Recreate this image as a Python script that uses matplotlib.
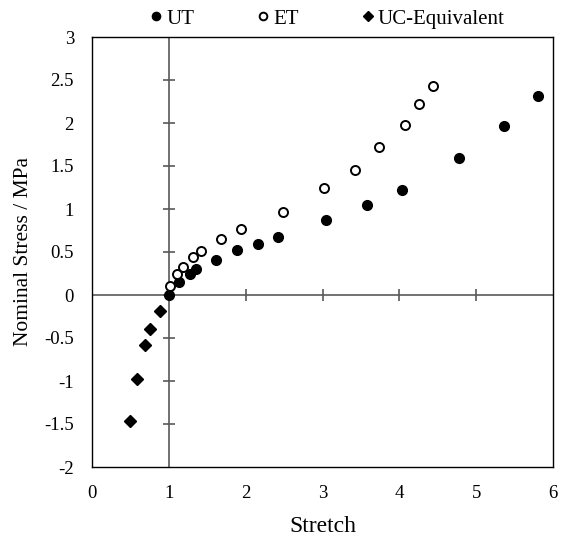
import matplotlib
matplotlib.use('Agg')
import matplotlib.pyplot as plt
import numpy as np

plt.rcParams['font.family'] = ['Liberation Serif', 'DejaVu Serif']

# uniaxial tension
ut_x = [1.00, 1.13, 1.27, 1.35, 1.62, 1.89, 2.16, 2.42, 3.05, 3.58, 4.03, 4.78, 5.36, 5.81]
ut_y = [0.00, 0.15, 0.24, 0.30, 0.41, 0.52, 0.59, 0.67, 0.87, 1.05, 1.22, 1.59, 1.97, 2.31]

# equibiaxial tension
et_x = [1.02, 1.10, 1.19, 1.31, 1.42, 1.68, 1.94, 2.49, 3.02, 3.42, 3.74, 4.07, 4.25, 4.44]
et_y = [0.10, 0.24, 0.33, 0.44, 0.51, 0.65, 0.77, 0.97, 1.25, 1.45, 1.72, 1.98, 2.22, 2.43]

# uniaxial compression equivalent
uc_x = [0.885, 0.76, 0.69, 0.59, 0.50]
uc_y = [-0.19, -0.39, -0.58, -0.98, -1.47]

xticks = [0, 1, 2, 3, 4, 5, 6]
yticks = np.arange(-2, 3.01, 0.5)

fig = plt.figure(figsize=(5.61, 5.42), dpi=100)
ax = fig.add_axes([92/561, 1 - 467/542, 461/561, 430/542])

ax.set_xlim(0, 6)
ax.set_ylim(-2, 3)
ax.set_xticks(xticks)
ax.set_yticks(yticks)
ax.set_yticklabels(['%g' % v for v in yticks])
ax.tick_params(length=0, labelsize=13.5)
ax.tick_params(axis='x', pad=13)
ax.tick_params(axis='y', pad=13)
for s in ax.spines.values():
    s.set_linewidth(1.0)
    s.set_color('black')

# inner axes through (1, 0) with crossing ticks
gray = '#595959'
ax.axvline(1, color=gray, lw=1.2, zorder=1)
ax.axhline(0, color=gray, lw=1.2, zorder=1)
ax.plot(xticks[2:6], np.zeros(4), ls='none', marker='|', ms=8, mew=1.2, color=gray, zorder=1)
ax.plot(np.ones(len(yticks) - 2), yticks[1:-1], ls='none', marker='_', ms=9, mew=1.2, color=gray, zorder=1)

ax.plot(ut_x, ut_y, 'o', color='black', ms=7, label='UT', zorder=3)
ax.plot(et_x, et_y, 'o', mfc='white', mec='black', mew=1.4, ms=6.5, label='ET', zorder=3)
ax.plot(uc_x, uc_y, 'D', color='black', ms=6, label='UC-Equivalent', zorder=3)

ax.set_xlabel('Stretch', fontsize=17, labelpad=10)
ax.set_ylabel('Nominal Stress / MPa', fontsize=15.5, labelpad=8)

ax.legend(loc='lower center', bbox_to_anchor=(0.51, 1.0), ncol=3, frameon=False,
          fontsize=15, markerscale=0.85, handletextpad=0.2, columnspacing=3.0,
          handlelength=0.6, borderaxespad=0.0)

fig.savefig('out.png', dpi=100)
